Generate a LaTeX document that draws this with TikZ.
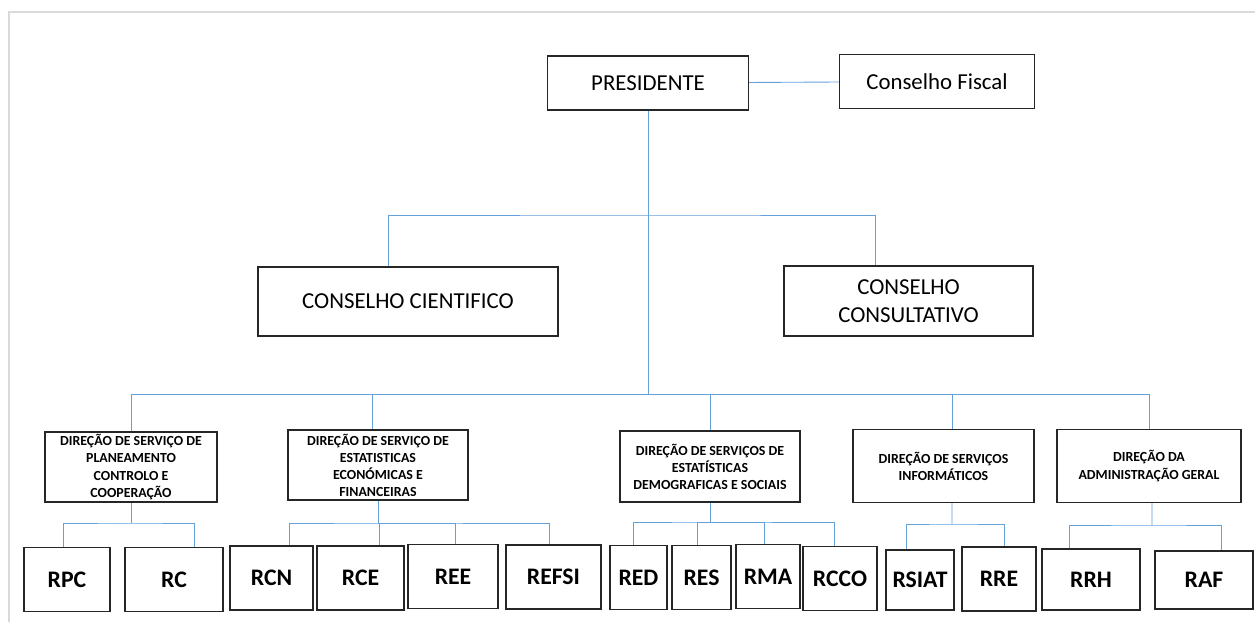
\documentclass[tikz,border=0pt]{standalone}
\usepackage{fontspec}
\setmainfont{Carlito}
\definecolor{linkblue}{RGB}{100,160,218}
\definecolor{framegray}{RGB}{217,217,217}
\begin{document}
\begin{tikzpicture}[x=0.02cm, y=-0.02cm,
  box/.style={draw=black!85, line width=0.7pt, inner sep=1pt, align=center},
  top/.style={box, font=\fontsize{13}{16}\selectfont},
  dir/.style={box, minimum width=3.6cm, font=\fontsize{7.9}{9.7}\selectfont\bfseries},
  leaf/.style={box, minimum height=1.28cm, font=\fontsize{13.5}{16}\selectfont\bfseries},
  link/.style={draw=linkblue, line width=0.5pt}]
\useasboundingbox (0,0) rectangle (1255,622);
\draw[framegray, line width=0.8pt] (9,622) -- (9,12) -- (1255,12);

% top level
\node[top, minimum width=4.02cm, minimum height=1.08cm] (pres) at (648,83) {PRESIDENTE};
\node[top, minimum width=3.9cm, minimum height=1.08cm] (fiscal) at (937,81.5) {Conselho Fiscal};
\node[top, minimum width=6cm, minimum height=1.38cm] (cient) at (408,301.5) {CONSELHO CIENTIFICO};
\node[top, minimum width=4.98cm, minimum height=1.4cm] (consult) at (908.5,301) {CONSELHO\\CONSULTATIVO};

% direcoes
\node[dir, minimum width=3.44cm, minimum height=1.4cm] (d1) at (131,467) {DIREÇÃO DE SERVIÇO DE\\PLANEAMENTO\\CONTROLO E\\COOPERAÇÃO};
\node[dir, minimum height=1.4cm] (d2) at (378,465) {DIREÇÃO DE SERVIÇO DE\\ESTATISTICAS\\ECONÓMICAS E\\FINANCEIRAS};
\node[dir, minimum height=1.42cm] (d3) at (710,466.5) {DIREÇÃO DE SERVIÇOS DE\\ESTATÍSTICAS\\DEMOGRAFICAS E SOCIAIS};
\node[dir, minimum width=3.62cm, minimum height=1.46cm] (d4) at (943.5,466) {DIREÇÃO DE SERVIÇOS\\INFORMÁTICOS};
\node[dir, minimum width=3.68cm, minimum height=1.46cm] (d5) at (1149,466) {DIREÇÃO DA\\ADMINISTRAÇÃO GERAL};

% reparticoes
\node[leaf, minimum width=1.72cm] (rpc) at (67,579.5) {RPC};
\node[leaf, minimum width=1.96cm] (rc) at (174,579.5) {RC};
\node[leaf, minimum width=1.66cm] (rcn) at (271.5,578) {RCN};
\node[leaf, minimum width=1.74cm] (rce) at (360.5,578) {RCE};
\node[leaf, minimum width=1.8cm] (ree) at (453,576.5) {REE};
\node[leaf, minimum width=1.9cm] (refsi) at (553.5,577) {REFSI};
\node[leaf, minimum width=1.14cm] (red) at (638.5,577.5) {RED};
\node[leaf, minimum width=1.18cm] (res) at (701.5,577.5) {RES};
\node[leaf, minimum width=1.28cm] (rma) at (768,576.5) {RMA};
\node[leaf, minimum width=1.48cm] (rcco) at (840,578.5) {RCCO};
\node[leaf, minimum width=1.36cm, minimum height=1.2cm] (rsiat) at (920,580) {RSIAT};
\node[leaf, minimum width=1.48cm] (rre) at (999,579) {RRE};
\node[leaf, minimum width=1.96cm, minimum height=1.22cm] (rrh) at (1091,579.5) {RRH};
\node[leaf, minimum width=1.96cm, minimum height=1.16cm] (raf) at (1204,580) {RAF};

% barramentos
\coordinate (upbus) at (648,215);
\coordinate (lowbus) at (648,394);
\coordinate (j1) at (131,523);
\coordinate (j2) at (378,523);
\coordinate (j3) at (710,522);
\coordinate (j4) at (952,524);
\coordinate (j5) at (1152,525);

\draw[link] (pres) -- (fiscal);
\draw[link] (pres) -- (lowbus);
\draw[link] ([xshift=-0.4cm]cient.north) |- (upbus) -| ([xshift=-0.67cm]consult.north);

\draw[link] (d1.north) |- (lowbus) -| (d5.north);
\draw[link] ([xshift=-0.12cm]d2.north) |- (lowbus);
\draw[link] (lowbus) -| (d3.north);
\draw[link] (lowbus) -| ([xshift=0.17cm]d4.north);

\draw[link] (d1) -- (j1);
\draw[link] ([xshift=-0.08cm]rpc.north) |- (j1) -| ([xshift=0.4cm]rc.north);

\draw[link] (d2) -- (j2);
\draw[link] ([xshift=0.35cm]rcn.north) |- (j2) -| ([xshift=-0.09cm]refsi.north);
\draw[link] ([xshift=0.37cm]rce.north) |- (j2);
\draw[link] ([xshift=0.04cm]ree.north) |- (j2);

\draw[link] (d3) -- (j3);
\draw[link] ([xshift=-0.11cm]red.north) |- (j3) -| ([xshift=-0.12cm]rcco.north);
\draw[link] ([xshift=-0.09cm]res.north) |- (j3);
\draw[link] ([xshift=-0.08cm]rma.north) |- (j3);

\draw[link] ([xshift=0.17cm]d4.south) -- (j4);
\draw[link] ([xshift=-0.28cm]rsiat.north) |- (j4) -| ([xshift=0.1cm]rre.north);

\draw[link] ([xshift=0.06cm]d5.south) -- (j5);
\draw[link] ([xshift=-0.44cm]rrh.north) |- (j5) -| ([xshift=0.34cm]raf.north);
\end{tikzpicture}
\end{document}
